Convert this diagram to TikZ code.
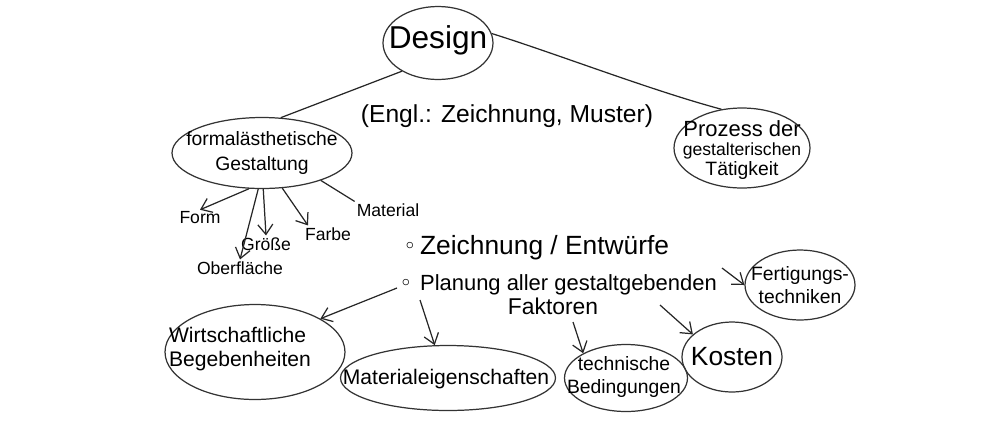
\documentclass[tikz,border=0pt]{standalone}
\usepackage{fontspec}
\setmainfont{Liberation Sans}
\usetikzlibrary{shapes.geometric,arrows.meta}
\begin{document}
\begin{tikzpicture}[x=0.02cm,y=-0.02cm,
  bubble/.style={draw=black!80,line width=0.7pt,ellipse,inner sep=0pt},
  lbl/.style={inner sep=1pt,align=center},
  link/.style={draw=black!85,line width=0.7pt},
  arr/.style={link,-{Straight Barb[length=2mm,width=3mm]}}]
\useasboundingbox (0,0) rectangle (1000,420);
% bubbles (shapes only)
\node[bubble,minimum width=2.2cm,minimum height=1.46cm] (design) at (438,43) {};
\node[bubble,minimum width=2.72cm,minimum height=1.6cm] (prozess) at (742,148) {};
\node[bubble,minimum width=3.6cm,minimum height=1.42cm] (formal) at (262,153) {};
\node[bubble,minimum width=2.2cm,minimum height=1.4cm] (fert) at (800,285) {};
\node[bubble,minimum width=3.6cm,minimum height=1.9cm] (wirt) at (255,352) {};
\node[bubble,minimum width=4.3cm,minimum height=1.3cm] (mat) at (448,378) {};
\node[bubble,minimum width=2.46cm,minimum height=1.34cm] (tech) at (626,378) {};
\node[bubble,minimum width=2.0cm,minimum height=1.4cm] (kosten) at (732,357) {};
% bubble texts
\node[lbl,font=\fontsize{18}{20}\selectfont] (designt) at (438,40) {Design};
\node[lbl] (prozesst) at (742,150)
  {{\fontsize{12.5}{15}\selectfont Prozess der}\\[-1pt]{\fontsize{10}{12}\selectfont gestalterischen}\\[-1pt]{\fontsize{11}{13}\selectfont Tätigkeit}};
\node[lbl,font=\fontsize{11}{14}\selectfont] (formalt) at (formal) {formalästhetische\\Gestaltung};
\node[lbl,font=\fontsize{11}{13}\selectfont] (fertt) at (fert) {Fertigungs-\\techniken};
\node[lbl,align=left,font=\fontsize{12}{14}\selectfont] (wirtt) at (240,349) {Wirtschaftliche\\Begebenheiten};
\node[lbl,font=\fontsize{12}{14}\selectfont] (matt) at (446,379) {Materialeigenschaften};
\node[lbl,font=\fontsize{11}{13}\selectfont] (techt) at (624,377) {technische\\Bedingungen};
\node[lbl,font=\fontsize{15}{17}\selectfont] (kostent) at (kosten) {Kosten};
% free texts
\node[lbl,font=\fontsize{14}{16}\selectfont] (engl) at (507,116) {(Engl.: Zeichnung, Muster)};
\node[lbl,font=\fontsize{10}{12}\selectfont] (form) at (200,218) {Form};
\node[lbl,font=\fontsize{10}{12}\selectfont] (groesse) at (266,244) {Größe};
\node[lbl,font=\fontsize{10}{12}\selectfont] (ober) at (240,268) {Oberfläche};
\node[lbl,font=\fontsize{10}{12}\selectfont] (farbe) at (328,234) {Farbe};
\node[lbl,font=\fontsize{10}{12}\selectfont] (material) at (388,210) {Material};
\node[lbl,font=\fontsize{9}{10}\selectfont] (b1) at (410,246) {$\circ$};
\node[lbl,anchor=west,font=\fontsize{15}{17}\selectfont] (zeich) at (418,248) {Zeichnung / Entwürfe};
\node[lbl,font=\fontsize{9}{10}\selectfont] (b2) at (406,283) {$\circ$};
\node[lbl,anchor=west,font=\fontsize{12.5}{15}\selectfont] (plan) at (418,285) {Planung aller gestaltgebenden};
\node[lbl,font=\fontsize{13}{15}\selectfont] (fakt) at (553,306) {Faktoren};
% connectors
\draw[link] (design.218) -- (formal.62);
\draw[link] (design.10) .. controls (560,55) and (650,90) .. (prozess.118);
\draw[arr] (formal.250) -- (form.north);
\draw[arr] (formal.264) -- (ober.north);
\draw[arr] (formal.272) -- (groesse.north);
\draw[arr] (formal.300) -- ([xshift=-0.4cm]farbe.north);
\draw[link] (formal.335) -- (material.north west);
\coordinate (p1) at (722,268);
\coordinate (p2) at (397,288);
\coordinate (p3) at (420,300);
\coordinate (p4) at (660,305);
\coordinate (p5) at (573,322);
\draw[arr] (p1) -- (fert.west);
\draw[arr] (p2) -- (wirt.27);
\draw[arr] (p3) -- (mat.112);
\draw[arr] (p5) -- (tech.150);
\draw[arr] (p4) -- (kosten.150);
\end{tikzpicture}
\end{document}
